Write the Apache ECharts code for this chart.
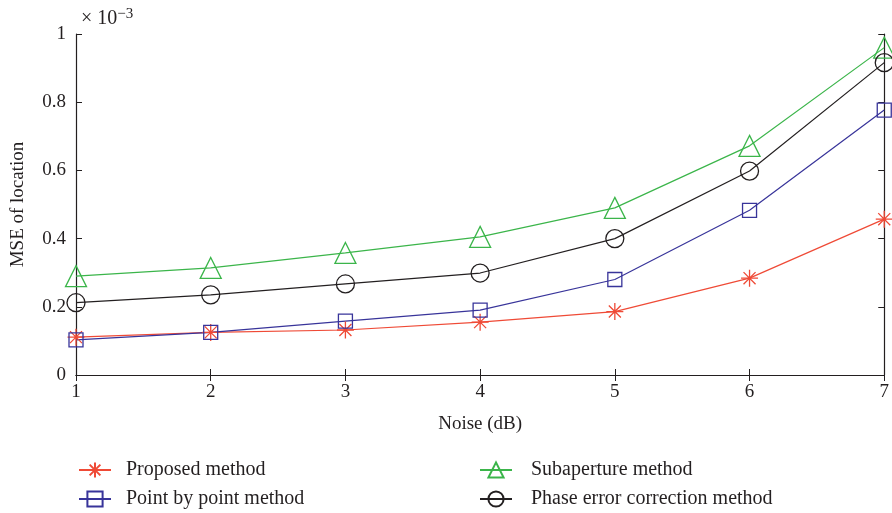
<!DOCTYPE html>
<html>
<head>
<meta charset="utf-8">
<script src="https://cdn.jsdelivr.net/npm/echarts@6/dist/echarts.min.js"></script>
<style>
html, body { margin: 0; padding: 0; background: #fff; }
#chart { width: 892px; height: 513px; }
</style>
</head>
<body>
<div id="chart"></div>
<script>
// noise levels (dB)
var noise = [1, 2, 3, 4, 5, 6, 7];
// MSE of location, x 10^-3
var proposed = [0.111, 0.125, 0.132, 0.155, 0.186, 0.284, 0.457];
var pointByPoint = [0.103, 0.125, 0.158, 0.190, 0.280, 0.483, 0.777];
var subaperture = [0.290, 0.314, 0.358, 0.405, 0.490, 0.672, 0.960];
var phaseError = [0.212, 0.235, 0.267, 0.299, 0.400, 0.598, 0.916];
var yTicks = [0, 0.2, 0.4, 0.6, 0.8, 1];

var serif = "Liberation Serif";
var starPath = "path://M0,-10L0,10M-10,0L10,0M-7.07,-7.07L7.07,7.07M-7.07,7.07L7.07,-7.07";

function pairs(ys) {
    return noise.map(function (x, i) { return [x, ys[i]]; });
}

function makeSeries(name, ys, color, symbol, size) {
    return {
        name: name,
        type: "line",
        data: pairs(ys),
        symbol: symbol,
        symbolSize: size,
        lineStyle: { color: color, width: 1.2 },
        itemStyle: { color: "transparent", borderColor: color, borderWidth: 1.3 },
        emphasis: { disabled: true },
        animation: false,
        clip: false
    };
}

var chart = echarts.init(document.getElementById("chart"));
var axisLine = { show: true, lineStyle: { color: "#231f20", width: 1.2 } };
var tick = { show: true, inside: true, length: 6, lineStyle: { color: "#231f20" } };
var labelStyle = { color: "#231f20", fontFamily: serif, fontSize: 19 };
var legendText = { color: "#231f20", fontFamily: serif, fontSize: 20 };

chart.setOption({
    backgroundColor: "#fff",
    title: {
        text: "× 10{s|−3}",
        left: 76,
        top: 2,
        textStyle: {
            color: "#231f20", fontFamily: serif, fontSize: 20, fontWeight: "normal",
            rich: { s: { fontFamily: serif, fontSize: 15, verticalAlign: "top", color: "#231f20", padding: [0, 0, 8, 0] } }
        }
    },
    grid: { left: 76, right: 6, top: 34, bottom: 138 },
    legend: [
        {
            orient: "vertical", left: 73, top: 455, height: 58, itemWidth: 32, itemHeight: 19, itemGap: 9,
            data: ["Proposed method", "Point by point method"],
            textStyle: Object.assign({ padding: [0, 0, 0, 10] }, legendText)
        },
        {
            orient: "vertical", left: 474, top: 455, height: 58, itemWidth: 32, itemHeight: 19, itemGap: 9,
            data: ["Subaperture method", "Phase error correction method"],
            textStyle: Object.assign({ padding: [0, 0, 0, 14] }, legendText)
        }
    ],
    xAxis: [
        {
            type: "value", min: 1, max: 7, interval: 1,
            name: "Noise (dB)", nameLocation: "middle", nameGap: 40,
            nameTextStyle: labelStyle,
            axisLine: axisLine, axisTick: tick,
            axisLabel: Object.assign({ margin: 8 }, labelStyle),
            splitLine: { show: false }
        },
        {
            type: "value", min: 1, max: 7, interval: 1, position: "top",
            axisLine: axisLine, axisTick: tick, axisLabel: { show: false }, splitLine: { show: false }
        }
    ],
    yAxis: [
        {
            type: "value", min: yTicks[0], max: yTicks[yTicks.length - 1], interval: 0.2,
            name: "MSE of location", nameLocation: "middle", nameGap: 48,
            nameTextStyle: labelStyle,
            axisLine: axisLine, axisTick: tick,
            axisLabel: Object.assign({ margin: 10, formatter: function (v) { return String(+v.toFixed(1)); } }, labelStyle),
            splitLine: { show: false }
        },
        {
            type: "value", min: 0, max: 1, interval: 0.2, position: "right",
            axisLine: axisLine, axisTick: tick, axisLabel: { show: false }, splitLine: { show: false }
        }
    ],
    series: [
        makeSeries("Proposed method", proposed, "#ef4a36", starPath, 17),
        makeSeries("Point by point method", pointByPoint, "#38349a", "rect", 14),
        makeSeries("Subaperture method", subaperture, "#3bb54a", "triangle", 21),
        makeSeries("Phase error correction method", phaseError, "#231f20", "circle", 18)
    ]
});
</script>
</body>
</html>
